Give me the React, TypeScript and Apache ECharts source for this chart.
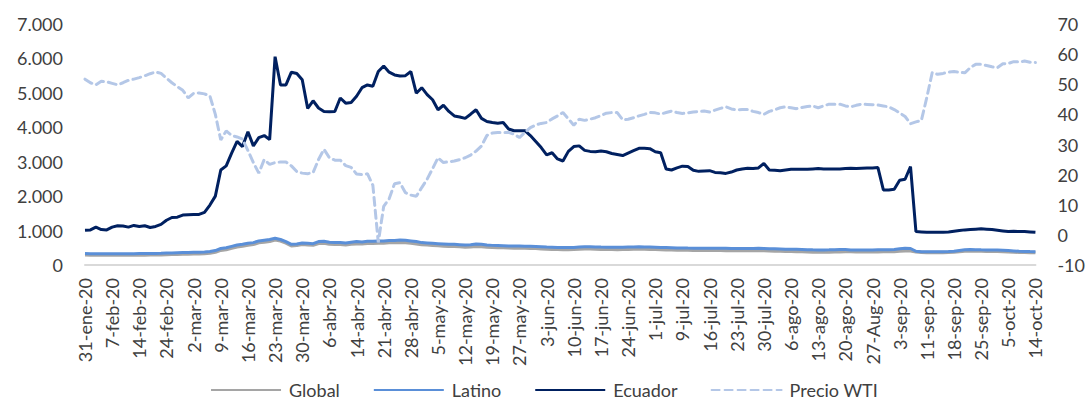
import React, { useEffect, useRef } from "react";
import * as echarts from "echarts";

const tickLabels = [
  "31-ene-20", "7-feb-20", "14-feb-20", "24-feb-20", "2-mar-20", "9-mar-20", "16-mar-20", "23-mar-20",
  "30-mar-20", "6-abr-20", "14-abr-20", "21-abr-20", "28-abr-20", "5-may-20", "12-may-20", "19-may-20",
  "27-may-20", "3-jun-20", "10-jun-20", "17-jun-20", "24-jun-20", "1-jul-20", "9-jul-20", "16-jul-20",
  "23-jul-20", "30-jul-20", "6-ago-20", "13-ago-20", "20-ago-20", "27-Aug-20", "3-sep-20", "11-sep-20",
  "18-sep-20", "25-sep-20", "5-oct-20", "14-oct-20",
];
const pointsPerTick = 5;

const ecuador = [
  1010, 1020, 1100, 1030, 1020, 1100, 1140, 1130, 1100, 1150,
  1120, 1140, 1090, 1120, 1180, 1300, 1380, 1390, 1450, 1460,
  1470, 1470, 1530, 1740, 2000, 2760, 2880, 3250, 3590, 3440,
  3870, 3460, 3700, 3760, 3640, 6050, 5230, 5230, 5600, 5560,
  5380, 4550, 4770, 4560, 4460, 4450, 4460, 4850, 4700, 4720,
  4900, 5150, 5230, 5190, 5620, 5780, 5600, 5520, 5490, 5500,
  5620, 4990, 5150, 4950, 4800, 4510, 4640, 4460, 4330, 4300,
  4260, 4380, 4510, 4260, 4170, 4140, 4120, 4140, 3950, 3900,
  3900, 3900, 3760, 3590, 3410, 3200, 3260, 3080, 3020, 3300,
  3440, 3460, 3330, 3300, 3290, 3310, 3290, 3240, 3210, 3180,
  3250, 3320, 3390, 3390, 3380, 3290, 3260, 2790, 2760, 2820,
  2870, 2860, 2750, 2720, 2730, 2740, 2690, 2680, 2660, 2700,
  2760, 2790, 2810, 2800, 2820, 2950, 2760, 2750, 2740, 2760,
  2780, 2780, 2780, 2780, 2790, 2800, 2790, 2790, 2790, 2790,
  2800, 2810, 2800, 2810, 2820, 2820, 2830, 2180, 2180, 2200,
  2460, 2490, 2860, 970, 960, 950, 950, 950, 950, 960,
  980, 1000, 1020, 1030, 1040, 1050, 1040, 1030, 1010, 990,
  970, 980, 970, 970, 960, 950,
];

const latino = [
  335, 330, 330, 325, 330, 330, 330, 330, 328, 330,
  332, 332, 335, 335, 338, 345, 350, 355, 360, 365,
  370, 372, 375, 390, 420, 480, 500, 540, 580, 600,
  630, 650, 700, 720, 740, 775, 740, 680, 600, 610,
  640, 630, 620, 680, 690, 660, 650, 650, 640, 660,
  680, 670, 690, 690, 700, 700, 710, 715, 725, 720,
  700, 680, 650, 640, 630, 620, 610, 600, 600, 590,
  580, 590, 610, 600, 580, 570, 565, 560, 555, 550,
  550, 548, 545, 540, 530, 520, 515, 510, 505, 505,
  510, 520, 530, 530, 525, 520, 518, 515, 512, 515,
  520, 525, 530, 525, 520, 515, 510, 505, 500, 495,
  495, 492, 490, 488, 486, 485, 485, 485, 483, 480,
  478, 478, 480, 482, 485, 480, 475, 470, 465, 460,
  458, 455, 450, 445, 440, 436, 438, 440, 445, 448,
  450, 438, 436, 436, 437, 438, 440, 442, 445, 450,
  470, 485, 480, 400, 387, 387, 387, 385, 385, 390,
  400, 420, 440, 450, 445, 440, 436, 436, 435, 430,
  420, 410, 400, 395, 390, 387,
];

const global = [
  295, 292, 290, 288, 290, 290, 290, 290, 288, 290,
  290, 292, 295, 295, 298, 305, 310, 315, 318, 322,
  326, 330, 332, 345, 375, 430, 450, 490, 530, 550,
  580, 600, 650, 670, 690, 735, 700, 640, 560, 570,
  600, 590, 580, 630, 640, 610, 600, 600, 590, 610,
  620, 615, 630, 635, 640, 640, 650, 655, 660, 655,
  640, 620, 595, 585, 575, 565, 555, 545, 545, 535,
  525, 530, 545, 540, 525, 515, 510, 505, 500, 495,
  495, 492, 490, 485, 475, 465, 460, 455, 450, 450,
  455, 465, 470, 470, 465, 460, 458, 455, 452, 455,
  458, 462, 465, 462, 458, 455, 450, 445, 440, 436,
  436, 433, 430, 428, 426, 425, 425, 425, 423, 420,
  418, 418, 420, 422, 425, 420, 415, 410, 405, 400,
  398, 395, 390, 385, 380, 376, 378, 380, 385, 388,
  390, 390, 388, 386, 386, 387, 388, 390, 392, 395,
  405, 415, 412, 385, 370, 365, 365, 363, 363, 367,
  375, 390, 405, 412, 408, 403, 400, 400, 398, 395,
  388, 380, 372, 368, 363, 360,
];

const wti = [
  51.7, 50.5, 49.8, 51.0, 50.8, 50.3, 49.8, 50.5, 51.3, 51.7,
  52.2, 52.8, 53.5, 54.1, 53.6, 52.0, 50.5, 49.2, 48.0, 45.5,
  47.0, 47.1, 46.8, 46.1, 40.0, 31.5, 34.5, 33.0, 32.5, 31.8,
  28.0, 24.0, 20.5, 25.0, 23.4, 24.0, 24.2, 24.2, 22.9, 21.0,
  20.5, 20.3, 20.7, 25.0, 28.4, 25.6, 24.8, 24.8, 23.0, 22.4,
  20.2, 20.0, 20.3, 16.5, -2.5, 9.5, 12.0, 17.0, 17.3, 14.0,
  13.2, 12.8, 15.7, 18.5, 22.0, 25.6, 24.0, 24.3, 24.5, 25.0,
  25.6, 26.5, 27.8, 29.5, 33.0, 33.8, 34.0, 34.0, 34.0, 33.4,
  32.3, 34.0, 35.6, 36.5, 37.0, 37.3, 38.5, 39.5, 40.6, 38.5,
  36.4, 38.4, 38.0, 38.4, 38.9, 39.6, 40.4, 40.6, 40.6, 38.2,
  38.4, 38.9, 39.5, 40.0, 40.6, 40.5, 40.1, 40.6, 41.1, 40.6,
  40.3, 40.5, 40.8, 40.9, 41.1, 40.8, 41.4, 42.0, 42.5, 41.8,
  41.5, 41.6, 41.6, 41.0, 40.6, 40.0, 41.0, 41.5, 42.2, 42.5,
  42.2, 41.9, 42.3, 42.6, 42.8, 42.2, 42.8, 43.4, 43.4, 43.4,
  42.8, 42.5, 43.0, 43.4, 43.3, 43.2, 43.1, 42.8, 42.5, 41.6,
  40.5, 39.3, 36.9, 37.5, 38.0, 45.6, 53.9, 53.3, 53.6, 54.0,
  54.2, 54.0, 53.8, 55.5, 56.6, 56.6, 56.2, 55.8, 55.5, 56.8,
  56.9, 57.5, 57.4, 57.7, 57.3, 57.2,
];

const categories: string[] = tickLabels.flatMap((t, i) =>
  i < tickLabels.length - 1
    ? [t, ...Array.from({ length: pointsPerTick - 1 }, (_, k) => `${t} +${k + 1}`)]
    : [t]
);

const FONT = "Lato";
const TEXT = "#404040";

export default function App() {
  const ref = useRef<HTMLDivElement>(null);
  useEffect(() => {
    if (!ref.current) return;
    const chart = echarts.init(ref.current, undefined, { renderer: "svg" });
    const thousands = (v: number) => String(v).replace(/\B(?=(\d{3})+(?!\d))/g, ".");
    chart.setOption({
      animation: false,
      backgroundColor: "#ffffff",
      textStyle: { fontFamily: FONT },
      grid: { left: 85, right: 51, top: 24, bottom: 136, containLabel: false },
      legend: {
        left: "center",
        top: 380,
        padding: 0,
        itemWidth: 70,
        itemHeight: 18,
        itemGap: 33,
        itemStyle: { opacity: 0 },
        textStyle: { fontFamily: FONT, fontSize: 18, color: TEXT, lineHeight: 20, padding: [0, 0, 0, 3] },
        data: ["Global", "Latino", "Ecuador", "Precio WTI"],
      },
      xAxis: {
        type: "category",
        data: categories,
        boundaryGap: false,
        axisLine: { show: true, lineStyle: { color: "#d9d9d9", width: 2 } },
        axisTick: { show: false },
        axisLabel: {
          interval: pointsPerTick - 1,
          rotate: 90,
          margin: 13,
          fontFamily: FONT,
          fontSize: 18,
          color: TEXT,
        },
        splitLine: { show: false },
      },
      yAxis: [
        {
          type: "value",
          min: 0,
          max: 7000,
          interval: 1000,
          axisLine: { show: false },
          axisTick: { show: false },
          splitLine: { show: false },
          axisLabel: {
            margin: 22,
            fontFamily: FONT,
            fontSize: 18,
            color: TEXT,
            formatter: (v: number) => thousands(v),
          },
        },
        {
          type: "value",
          min: -10,
          max: 70,
          interval: 10,
          position: "right",
          axisLine: { show: false },
          axisTick: { show: false },
          splitLine: { show: false },
          axisLabel: { margin: 22, fontFamily: FONT, fontSize: 18, color: TEXT },
        },
      ],
      series: [
        {
          name: "Global",
          type: "line",
          data: global,
          symbol: "none",
          lineStyle: { color: "#a5a5a5", width: 3.5 },
          itemStyle: { color: "#a5a5a5" },
        },
        {
          name: "Latino",
          type: "line",
          data: latino,
          symbol: "none",
          lineStyle: { color: "#5a8fd8", width: 3 },
          itemStyle: { color: "#5a8fd8" },
        },
        {
          name: "Ecuador",
          type: "line",
          data: ecuador,
          symbol: "none",
          lineStyle: { color: "#002060", width: 3 },
          itemStyle: { color: "#002060" },
        },
        {
          name: "Precio WTI",
          type: "line",
          yAxisIndex: 1,
          data: wti,
          symbol: "none",
          lineStyle: { color: "#b4c7e7", width: 3, type: [8, 5], cap: "round" },
          itemStyle: { color: "#b4c7e7" },
        },
      ],
    });
    return () => chart.dispose();
  }, []);
  return (
    <div
      ref={ref}
      style={{ position: "fixed", left: 0, top: 0, width: 1088, height: 401, background: "#fff" }}
    />
  );
}
